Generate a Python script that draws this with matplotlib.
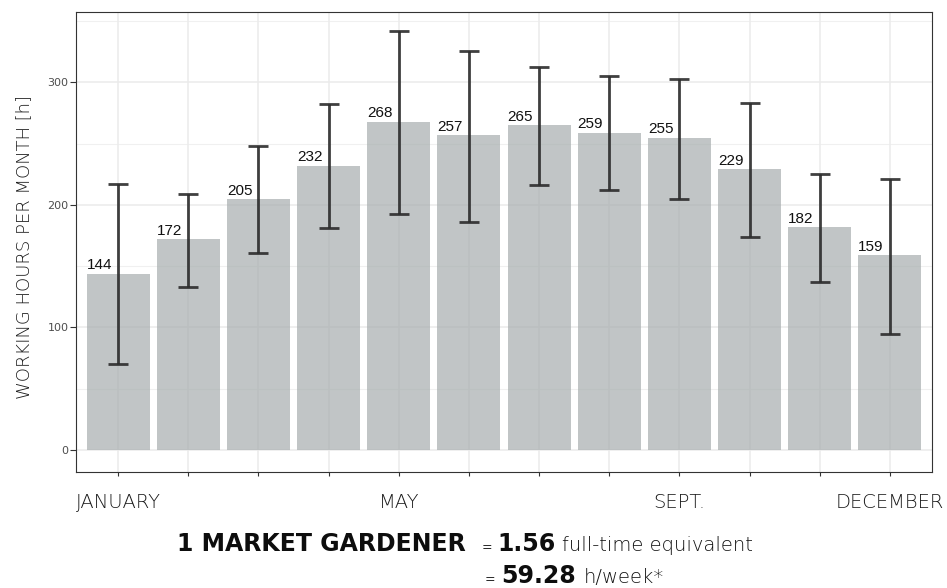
import matplotlib
matplotlib.use("Agg")
import matplotlib.pyplot as plt
import numpy as np

months = ["JANUARY", "FEB", "MAR", "APR", "MAY", "JUN", "JUL", "AUG", "SEPT.", "OCT", "NOV", "DECEMBER"]
shown_labels = ["JANUARY", "", "", "", "MAY", "", "", "", "SEPT.", "", "", "DECEMBER"]
hours = [144, 172, 205, 232, 268, 257, 265, 259, 255, 229, 182, 159]
err_low = [70, 133, 161, 181, 193, 186, 216, 212, 205, 174, 137, 95]
err_high = [217, 209, 248, 282, 342, 326, 313, 305, 303, 283, 225, 221]
y_ticks = [0, 100, 200, 300]

W, H = 947, 588
fig = plt.figure(figsize=(W / 100, H / 100), dpi=100)
ax = fig.add_axes([76 / W, 1 - 472 / H, (932 - 76) / W, (472 - 12) / H])

x = np.arange(1, len(hours) + 1)
ax.set_xlim(0.4, 12.6)
ax.set_ylim(-18, 357.5)

# grid
for v in [50, 150, 250, 350]:
    ax.axhline(v, color="#f0f0f0", lw=0.8, zorder=0)
for v in y_ticks:
    ax.axhline(v, color="#ebebeb", lw=1.1, zorder=0)
for xi in x:
    ax.axvline(xi, color="#ebebeb", lw=1.1, zorder=0)

ax.bar(x, hours, width=0.9, color="#a9afb0", alpha=0.72, zorder=2)
yerr = [np.array(hours) - np.array(err_low), np.array(err_high) - np.array(hours)]
ax.errorbar(x, hours, yerr=yerr, fmt="none", ecolor="#2b2b2b", elinewidth=2.0,
            capsize=7, capthick=2.0, alpha=0.9, zorder=3)

for xi, h in zip(x, hours):
    ax.text(xi - 0.45, h + 3.5, str(h), ha="left", va="baseline", fontsize=11,
            family="Liberation Sans", color="#111111", zorder=4)

ax.set_xticks(x)
ax.set_xticklabels(shown_labels, family="DejaVu Sans", fontweight="light", fontsize=14, color="#1a1a1a")
ax.set_yticks(y_ticks)
ax.set_yticklabels([str(v) for v in y_ticks], family="DejaVu Sans", fontsize=8, color="#4d4d4d")
ax.tick_params(axis="x", length=3, width=0.8, color="#333333", pad=12)
ax.tick_params(axis="y", length=4.5, width=0.8, color="#333333", pad=1)
for s in ax.spines.values():
    s.set_color("#333333")
    s.set_linewidth(0.8)

fig.text(24 / W, 1 - 247 / H, "WORKING HOURS PER MONTH [h]", rotation=90, ha="center", va="center",
         family="DejaVu Sans", fontweight="light", fontsize=13, color="#1a1a1a")

# bottom annotation
bold = dict(family="DejaVu Sans", fontweight="bold", fontsize=17, color="#0d0d0d")
light = dict(family="DejaVu Sans", fontweight="light", fontsize=14, color="#111111")
small = dict(family="DejaVu Sans", fontsize=9, color="#222222")

fig.canvas.draw()
renderer = fig.canvas.get_renderer()

def chain(pieces, x0, ybase):
    xc = x0
    for txt, kw, gap in pieces:
        t = fig.text(xc / W, 1 - ybase / H, txt, ha="left", va="baseline", **kw)
        bb = t.get_window_extent(renderer=renderer)
        xc = xc + bb.width + gap

fig.text(177 / W, 1 - 551 / H, "1 MARKET GARDENER", ha="left", va="baseline", **bold)
chain([("=", small, 5), ("1.56", bold, 6), ("full-time equivalent", light, 0)], 482, 551)
chain([("=", small, 6), ("59.28", bold, 7), ("h/week*", light, 0)], 485, 583)

fig.savefig("out.png", dpi=100)
